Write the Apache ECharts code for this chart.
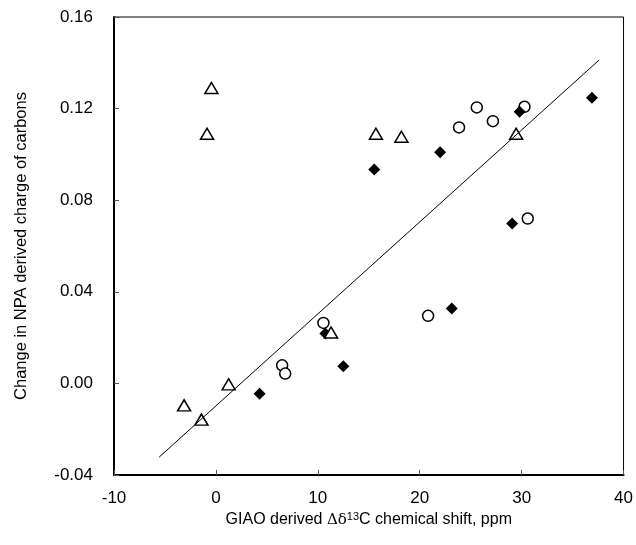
<!DOCTYPE html>
<html>
<head>
<meta charset="utf-8">
<script src="https://cdn.jsdelivr.net/npm/echarts@6/dist/echarts.min.js"></script>
<style>
  html, body { margin: 0; padding: 0; background: #fff; }
  #chart { width: 636px; height: 545px; }
</style>
</head>
<body>
<div id="chart"></div>
<script>
// open triangles
const triX = [-0.44, -0.87, 15.7, 18.2, 29.46, 11.3, 1.25, -3.12, -1.42];
const triY = [0.129, 0.109, 0.109, 0.1077, 0.109, 0.0222, -0.0004, -0.0096, -0.0158];
// open circles
const circX = [25.6, 23.86, 27.18, 30.28, 30.6, 20.82, 10.55, 6.5, 6.8];
const circY = [0.1205, 0.1118, 0.1145, 0.1208, 0.072, 0.0295, 0.0264, 0.0079, 0.0043];
// filled diamonds
const diaX = [36.9, 29.8, 22.0, 15.54, 29.07, 23.14, 12.5, 10.74, 4.29];
const diaY = [0.1247, 0.1186, 0.1009, 0.0934, 0.0698, 0.0327, 0.0075, 0.0218, -0.0045];
// fitted line ends
const fitX = [-5.57, 37.6];
const fitY = [-0.0322, 0.1412];

const xTicks = [-10, 0, 10, 20, 30, 40];
const yTicks = [-0.04, 0.00, 0.04, 0.08, 0.12, 0.16];

const pairs = (xs, ys) => xs.map((x, i) => [x, ys[i]]);

const chart = echarts.init(document.getElementById('chart'));

const font = 'Liberation Sans, Arial, sans-serif';

const option = {
    animation: false,
    backgroundColor: '#fff',
    grid: {
        left: 114, right: 11, top: 17, bottom: 70,
        show: true, borderColor: '#000', borderWidth: 1
    },
    xAxis: {
        type: 'value',
        min: xTicks[0], max: xTicks[xTicks.length - 1], interval: 10,
        name: 'GIAO derived {g|Δδ}{sup|13}C chemical shift, ppm',
        nameLocation: 'middle',
        nameGap: 33,
        nameTextStyle: {
            color: '#000', fontFamily: font, fontSize: 16,
            rich: {
                g: { fontFamily: 'DejaVu Serif, serif', fontSize: 15, color: '#000' },
                sup: { fontSize: 11, verticalAlign: 'top', lineHeight: 10, color: '#000' }
            }
        },
        axisLine: { onZero: false, lineStyle: { color: '#000', width: 2 } },
        axisTick: { inside: true, length: 5, lineStyle: { color: '#555', width: 1 } },
        axisLabel: { color: '#000', fontFamily: font, fontSize: 17, margin: 15 },
        splitLine: { show: false }
    },
    yAxis: {
        type: 'value',
        min: yTicks[0], max: yTicks[yTicks.length - 1], interval: 0.04,
        name: 'Change in NPA derived charge of carbons',
        nameLocation: 'middle',
        nameGap: 84,
        nameTextStyle: { color: '#000', fontFamily: font, fontSize: 16.5 },
        axisLine: { onZero: false, lineStyle: { color: '#000', width: 2 } },
        axisTick: { inside: true, length: 5, lineStyle: { color: '#555', width: 1 } },
        axisLabel: {
            color: '#000', fontFamily: font, fontSize: 17, margin: 21,
            formatter: v => v.toFixed(2)
        },
        splitLine: { show: false }
    },
    series: [
        {
            name: 'circles',
            type: 'scatter',
            symbol: 'circle',
            symbolSize: 11,
            itemStyle: { color: '#fff', borderColor: '#000', borderWidth: 1.5, opacity: 1 },
            data: pairs(circX, circY)
        },
        {
            name: 'diamonds',
            type: 'scatter',
            symbol: 'diamond',
            symbolSize: 12,
            itemStyle: { color: '#000', opacity: 1 },
            data: pairs(diaX, diaY)
        },
        {
            name: 'triangles',
            type: 'scatter',
            symbol: 'triangle',
            symbolSize: [13, 11],
            itemStyle: { color: '#fff', borderColor: '#000', borderWidth: 1.5, opacity: 1 },
            data: pairs(triX, triY)
        },
        {
            name: 'fit',
            type: 'line',
            showSymbol: false,
            symbol: 'none',
            lineStyle: { color: '#000', width: 1 },
            data: pairs(fitX, fitY)
        }
    ]
};

chart.setOption(option);
</script>
</body>
</html>
